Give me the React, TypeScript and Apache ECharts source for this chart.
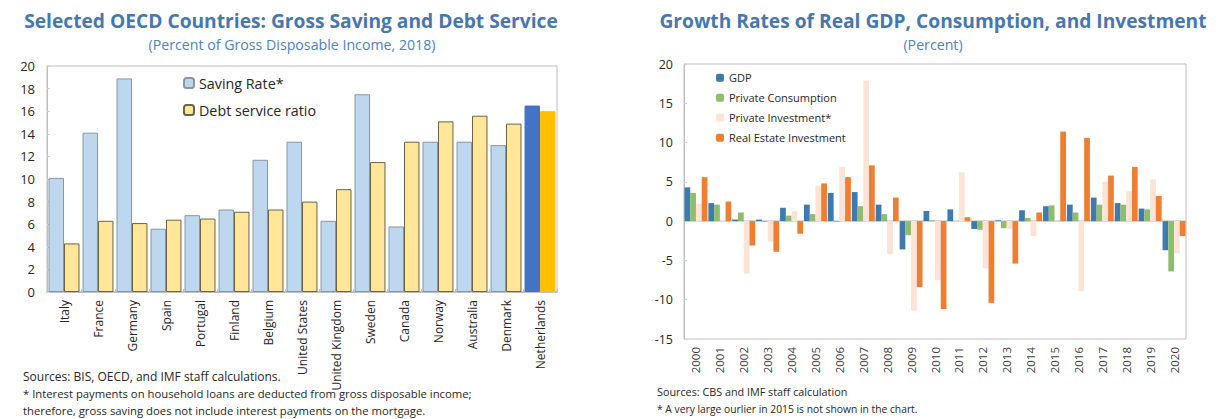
import React, { useEffect, useRef } from "react";
import * as echarts from "echarts";

const countries = ["Italy", "France", "Germany", "Spain", "Portugal", "Finland", "Belgium", "United States", "United Kingdom", "Sweden", "Canada", "Norway", "Australia", "Denmark", "Netherlands"];
const savingRate = [10.1, 14.1, 18.9, 5.6, 6.8, 7.3, 11.7, 13.3, 6.3, 17.5, 5.8, 13.3, 13.3, 13.0, 16.5];
const debtService = [4.3, 6.3, 6.1, 6.4, 6.5, 7.1, 7.3, 8.0, 9.1, 11.5, 13.3, 15.1, 15.6, 14.9, 16.0];
const leftTicks = [0, 20, 2];

const years = ["2000", "2001", "2002", "2003", "2004", "2005", "2006", "2007", "2008", "2009", "2010", "2011", "2012", "2013", "2014", "2015", "2016", "2017", "2018", "2019", "2020"];
const gdp = [4.3, 2.3, 0.2, 0.2, 1.7, 2.1, 3.6, 3.7, 2.1, -3.6, 1.3, 1.5, -1.0, 0.1, 1.4, 1.9, 2.1, 3.0, 2.3, 1.6, -3.7];
const consumption = [3.6, 2.1, 1.1, -0.1, 0.7, 0.9, -0.1, 1.9, 0.9, -1.8, 0.1, 0.0, -1.1, -0.9, 0.4, 2.0, 1.1, 2.1, 2.1, 1.5, -6.4];
const privateInvestment = [2.2, 0.2, -6.7, -2.6, 1.3, 4.5, 6.9, 17.9, -4.2, -11.4, -7.5, 6.2, -6.0, -1.0, -1.9, null, -8.9, 5.0, 3.8, 5.3, -4.1];
const realEstate = [5.6, 2.5, -3.1, -3.9, -1.6, 4.8, 5.6, 7.1, 3.0, -8.4, -11.2, 0.5, -10.4, -5.4, 1.1, 11.4, 10.6, 5.8, 6.9, 3.2, -1.9];
const rightTicks = [-15, 20, 5];

const FONT = "Open Sans";
const TITLE_COLOR = "#4677B0";

export default function App() {
  const ref = useRef<HTMLDivElement>(null);
  useEffect(() => {
    if (!ref.current) return;
    const chart = echarts.init(ref.current, null, { renderer: "svg" });
    const last = countries.length - 1;
    const option: any = {
      animation: false,
      textStyle: { fontFamily: FONT },
      grid: [
        { left: 47, top: 66, width: 510, height: 226, show: true, borderColor: "#bfbfbf", borderWidth: 1, backgroundColor: "transparent" },
        { left: 684, top: 64, width: 502, height: 275, show: true, borderColor: "#bfbfbf", borderWidth: 1, backgroundColor: "transparent" },
      ],
      legend: [
        {
          orient: "vertical", left: 178, top: 71, itemWidth: 10, itemHeight: 10, itemGap: 13,
          textStyle: { fontSize: 14.3, color: "#262626", fontFamily: FONT },
          data: ["Saving Rate*", "Debt service ratio"],
        },
        {
          orient: "vertical", left: 711, top: 67, itemWidth: 8, itemHeight: 8, itemGap: 8.5,
          textStyle: { fontSize: 11, color: "#262626", fontFamily: FONT, lineHeight: 11.5 },
          data: ["GDP", "Private Consumption", "Private Investment*", "Real Estate Investment"],
        },
      ],
      xAxis: [
        {
          type: "category", gridIndex: 0, data: countries,
          axisLine: { lineStyle: { color: "#bfbfbf", width: 2 } },
          axisTick: { show: true, inside: true, length: 3, lineStyle: { color: "#bfbfbf" } },
          axisLabel: { rotate: 90, interval: 0, fontSize: 12, color: "#262626", margin: 8, fontFamily: FONT },
        },
        {
          type: "category", gridIndex: 1, data: years,
          axisLine: { onZero: true, lineStyle: { color: "#d9d9d9", width: 2 } },
          axisTick: { show: true, inside: true, length: 3, lineStyle: { color: "#d9d9d9" } },
          axisLabel: { show: false },
        },
        {
          type: "category", gridIndex: 1, data: years, position: "bottom",
          axisLine: { show: false, onZero: false }, axisTick: { show: false },
          axisLabel: { rotate: 90, interval: 0, fontSize: 11.5, color: "#404040", margin: 8, fontFamily: FONT },
        },
      ],
      yAxis: [
        {
          type: "value", gridIndex: 0, min: leftTicks[0], max: leftTicks[1], interval: leftTicks[2],
          splitLine: { show: false },
          axisLine: { show: true, lineStyle: { color: "#bfbfbf" } },
          axisTick: { show: true, inside: true, length: 3, lineStyle: { color: "#d0d0d0" } },
          axisLabel: { fontSize: 13, color: "#262626", margin: 12, fontFamily: FONT },
        },
        {
          type: "value", gridIndex: 1, min: rightTicks[0], max: rightTicks[1], interval: rightTicks[2],
          splitLine: { show: false },
          axisLine: { show: true, lineStyle: { color: "#bfbfbf" } },
          axisTick: { show: true, inside: true, length: 3, lineStyle: { color: "#d0d0d0" } },
          axisLabel: { fontSize: 12.5, color: "#262626", margin: 11, fontFamily: FONT },
        },
      ],
      series: [
        {
          name: "Saving Rate*", type: "bar", xAxisIndex: 0, yAxisIndex: 0, barGap: "0%", barCategoryGap: "9%",
          itemStyle: { color: "#BDD7EE", borderColor: "#8a96a3", borderWidth: 1 },
          data: savingRate.map((v, i) => i === last ? { value: v, itemStyle: { color: "#4472C4", borderColor: "#4472C4" } } : v),
        },
        {
          name: "Debt service ratio", type: "bar", xAxisIndex: 0, yAxisIndex: 0, barGap: "0%", barCategoryGap: "9%",
          itemStyle: { color: "#FFE699", borderColor: "#6b6348", borderWidth: 1 },
          data: debtService.map((v, i) => i === last ? { value: v, itemStyle: { color: "#FFC000", borderColor: "#FFC000" } } : v),
        },
        { name: "GDP", type: "bar", xAxisIndex: 1, yAxisIndex: 1, barGap: "0%", barCategoryGap: "4%", itemStyle: { color: "#3F7AAE" }, data: gdp },
        { name: "Private Consumption", type: "bar", xAxisIndex: 1, yAxisIndex: 1, barGap: "0%", barCategoryGap: "4%", itemStyle: { color: "#90BC6E" }, data: consumption },
        { name: "Private Investment*", type: "bar", xAxisIndex: 1, yAxisIndex: 1, barGap: "0%", barCategoryGap: "4%", itemStyle: { color: "#FBE3D6" }, data: privateInvestment },
        { name: "Real Estate Investment", type: "bar", xAxisIndex: 1, yAxisIndex: 1, barGap: "0%", barCategoryGap: "4%", itemStyle: { color: "#EE7E32" }, data: realEstate },
      ],
      graphic: [
        { type: "text", x: 291, y: 20, style: { text: "Selected OECD Countries: Gross Saving and Debt Service", font: `bold 19.2px "${FONT}"`, fill: TITLE_COLOR, align: "center", verticalAlign: "middle" } },
        { type: "text", x: 292, y: 44, style: { text: "(Percent of Gross Disposable Income, 2018)", font: `14.2px "${FONT}"`, fill: "#4F81BD", align: "center", verticalAlign: "middle" } },
        { type: "text", x: 933, y: 20, style: { text: "Growth Rates of Real GDP, Consumption, and Investment", font: `bold 19.2px "${FONT}"`, fill: TITLE_COLOR, align: "center", verticalAlign: "middle" } },
        { type: "text", x: 933, y: 44, style: { text: "(Percent)", font: `14.2px "${FONT}"`, fill: "#4F81BD", align: "center", verticalAlign: "middle" } },
        { type: "text", x: 23, y: 376, style: { text: "Sources: BIS, OECD, and IMF staff calculations.", font: `12px "${FONT}"`, fill: "#262626", verticalAlign: "middle" } },
        { type: "text", x: 23, y: 393, style: { text: "* Interest payments on household loans are deducted from gross disposable income;", font: `11.3px "${FONT}"`, fill: "#262626", verticalAlign: "middle" } },
        { type: "text", x: 23, y: 410.5, style: { text: "therefore, gross saving does not include interest payments on the mortgage.", font: `11.3px "${FONT}"`, fill: "#262626", verticalAlign: "middle" } },
        { type: "text", x: 657, y: 391.5, style: { text: "Sources: CBS and IMF staff calculation", font: `10.8px "${FONT}"`, fill: "#262626", verticalAlign: "middle" } },
        { type: "text", x: 657, y: 408.5, style: { text: "* A very large ourlier in 2015 is not shown in the chart.", font: `10.3px "${FONT}"`, fill: "#262626", verticalAlign: "middle" } },
      ],
    };
    chart.setOption(option);
    return () => chart.dispose();
  }, []);
  return <div ref={ref} style={{ position: "absolute", left: 0, top: 0, width: 1218, height: 419, background: "#ffffff" }} />;
}
